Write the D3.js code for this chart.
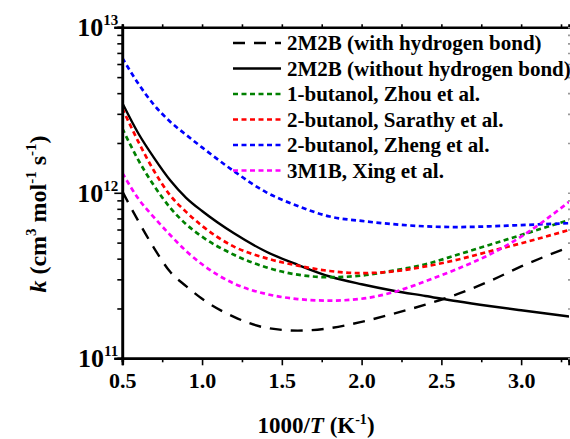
<!DOCTYPE html>
<html>
<head>
<meta charset="utf-8">
<script src="https://cdn.jsdelivr.net/npm/d3@7"></script>
<style>
  body { margin: 0; background: #fff; }
</style>
</head>
<body>
<div id="chart"></div>
<script>
// x grid shared by every curve (1000/T, K^-1)
const invT = [0.5, 0.6, 0.7, 0.8, 0.9, 1.0, 1.2, 1.4, 1.6, 1.8, 2.0, 2.2, 2.4, 2.6, 2.8, 3.0, 3.3];

// rate constants, cm3 mol-1 s-1
const withHB    = [1.02e12, 6.76e11, 4.62e11, 3.33e11, 2.73e11, 2.29e11, 1.78e11, 1.53e11, 1.47e11, 1.52e11, 1.66e11, 1.86e11, 2.11e11, 2.44e11, 2.92e11, 3.59e11, 4.70e11];
const withoutHB = [3.49e12, 2.29e12, 1.62e12, 1.19e12, 9.33e11, 7.76e11, 5.69e11, 4.42e11, 3.67e11, 3.12e11, 2.80e11, 2.56e11, 2.38e11, 2.21e11, 2.07e11, 1.95e11, 1.79e11];
const zhou      = [2.45e12, 1.58e12, 1.10e12, 8.13e11, 6.46e11, 5.43e11, 4.22e11, 3.55e11, 3.20e11, 3.09e11, 3.16e11, 3.39e11, 3.70e11, 4.22e11, 4.84e11, 5.56e11, 6.84e11];
const sarathy   = [3.24e12, 2.04e12, 1.35e12, 9.66e11, 7.67e11, 6.31e11, 4.73e11, 4.03e11, 3.63e11, 3.37e11, 3.27e11, 3.35e11, 3.59e11, 3.94e11, 4.42e11, 4.95e11, 5.96e11];
const zheng     = [6.53e12, 4.57e12, 3.39e12, 2.69e12, 2.24e12, 1.88e12, 1.35e12, 1.01e12, 8.32e11, 7.19e11, 6.76e11, 6.46e11, 6.27e11, 6.21e11, 6.27e11, 6.38e11, 6.55e11];
const xing      = [1.32e12, 9.23e11, 7.08e11, 5.56e11, 4.45e11, 3.70e11, 2.83e11, 2.45e11, 2.28e11, 2.23e11, 2.29e11, 2.51e11, 2.92e11, 3.47e11, 4.22e11, 5.43e11, 8.81e11];

const seriesNames = ["2M2B (with hydrogen bond)", "2M2B (without hydrogen bond)", "1-butanol, Zhou et al.",
                     "2-butanol, Sarathy et al.", "2-butanol, Zheng et al.", "3M1B, Xing et al."];
const seriesValues = [withHB, withoutHB, zhou, sarathy, zheng, xing];
const seriesColors = ["#000", "#000", "#008000", "#ff0000", "#0000ff", "#ff00ff"];
const seriesDash = ["12,9", null, "5,3.5", "5,3.5", "5,3.5", "5,3.5"];

const xMajor = [0.5, 1.0, 1.5, 2.0, 2.5, 3.0];
const xMinor = [0.75, 1.25, 1.75, 2.25, 2.75, 3.25];
const yMajor = [1e11, 1e12, 1e13];

const FONT = "'Liberation Serif', 'Times New Roman', Times, 'DejaVu Serif', serif";
const W = 570, H = 439;
const m = {top: 27.3, right: 1, bottom: 80.7, left: 122.3};

const svg = d3.select("#chart").append("svg")
  .attr("width", W).attr("height", H);

const x = d3.scaleLinear().domain([0.5, 3.3]).range([m.left, W - m.right]);
const y = d3.scaleLog().domain([1e11, 1e13]).range([H - m.bottom, m.top]);

svg.append("clipPath").attr("id", "clip")
  .append("rect")
  .attr("x", m.left).attr("y", m.top)
  .attr("width", W - m.right - m.left).attr("height", H - m.bottom - m.top);

// curves
const line = d3.line()
  .x(d => x(d[0]))
  .y(d => y(d[1]))
  .curve(d3.curveMonotoneX);

const curves = svg.append("g").attr("clip-path", "url(#clip)");
seriesValues.forEach((vals, i) => {
  curves.append("path")
    .datum(invT.map((t, j) => [t, vals[j]]))
    .attr("fill", "none")
    .attr("stroke", seriesColors[i])
    .attr("stroke-width", i < 2 ? 2.4 : 2.7)
    .attr("stroke-dasharray", seriesDash[i])
    .attr("d", line);
});

// axes
const xb = H - m.bottom;
const minorY = y.ticks().filter(v => yMajor.indexOf(v) < 0);

svg.append("g").attr("transform", `translate(0,${xb})`)
  .call(d3.axisBottom(x).tickValues(xMinor).tickSize(4).tickFormat(""));
svg.append("g").attr("transform", `translate(0,${xb})`)
  .call(d3.axisBottom(x).tickValues(xMajor).tickSize(7).tickFormat(d3.format(".1f")))
  .call(g => g.selectAll("text").attr("dy", null).attr("y", 30)
    .attr("font-family", FONT).attr("font-weight", "bold").attr("font-size", 22).attr("fill", "#000"));

svg.append("g").attr("transform", `translate(0,${m.top})`)
  .call(d3.axisTop(x).tickValues(xMajor.concat(xMinor)).tickSize(3).tickFormat(""));

svg.append("g").attr("transform", `translate(${m.left},0)`)
  .call(d3.axisLeft(y).tickValues(minorY).tickSize(5).tickFormat(""));
svg.append("g").attr("transform", `translate(${m.left},0)`)
  .call(d3.axisLeft(y).tickValues(yMajor).tickSize(8).tickFormat(""));

svg.append("g").attr("transform", `translate(${W + 1},0)`)
  .call(d3.axisLeft(y).tickValues(y.ticks()).tickSize(3).tickFormat(""))
  .call(g => g.select(".domain").remove())
  .call(g => g.selectAll("line").attr("stroke", "#999"));

svg.selectAll(".domain").attr("stroke-width", 2.6);
svg.selectAll(".tick line").attr("stroke-width", 1.6);

// helper for serif bold text
function label(sel, size) {
  return sel.attr("font-family", FONT).attr("font-weight", "bold")
    .attr("font-size", size).attr("fill", "#000");
}

// y tick labels 10^n
yMajor.forEach(v => {
  const t = label(svg.append("text"), 26)
    .attr("x", m.left - 4)
    .attr("y", y(v) + 9)
    .attr("text-anchor", "end");
  t.append("tspan").text("10");
  t.append("tspan").attr("dy", -11).attr("font-size", 15).text(Math.round(Math.log10(v)));
});

// axis titles
const xt = label(svg.append("text"), 23)
  .attr("x", 316).attr("y", 433)
  .attr("text-anchor", "middle");
xt.append("tspan").text("1000/");
xt.append("tspan").attr("font-style", "italic").text("T");
xt.append("tspan").text(" (K");
xt.append("tspan").attr("dy", -9).attr("font-size", 14).text("-1");
xt.append("tspan").attr("dy", 9).text(")");

const yt = label(svg.append("text"), 24)
  .attr("transform", "translate(46,214) rotate(-90)")
  .attr("text-anchor", "middle");
yt.append("tspan").attr("font-style", "italic").text("k");
yt.append("tspan").text(" (cm");
yt.append("tspan").attr("dy", -10).attr("font-size", 15).text("3");
yt.append("tspan").attr("dy", 10).text(" mol");
yt.append("tspan").attr("dy", -10).attr("font-size", 15).text("-1");
yt.append("tspan").attr("dy", 10).text(" s");
yt.append("tspan").attr("dy", -10).attr("font-size", 15).text("-1");
yt.append("tspan").attr("dy", 10).text(")");

// legend
const legend = svg.append("g");
seriesNames.forEach((name, i) => {
  const cy = 43 + i * 25.5;
  legend.append("line")
    .attr("x1", 233).attr("x2", 281)
    .attr("y1", cy).attr("y2", cy)
    .attr("stroke", seriesColors[i])
    .attr("stroke-width", i < 2 ? 2.4 : 2.7)
    .attr("stroke-dasharray", seriesDash[i]);
  label(legend.append("text"), 21)
    .attr("x", 287).attr("y", cy + 7)
    .text(name);
});
</script>
</body>
</html>
